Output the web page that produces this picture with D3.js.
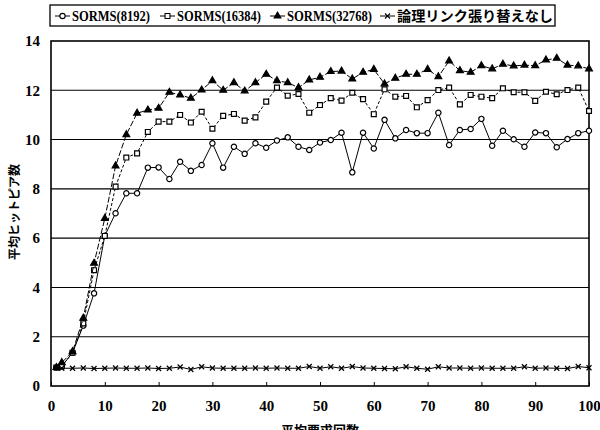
<!DOCTYPE html>
<html>
<head>
<meta charset="utf-8">
<script src="https://cdn.jsdelivr.net/npm/d3@7"></script>
<style>
  body { margin: 0; background: #fff; }
  svg { display: block; }
</style>
</head>
<body>
<svg width="600" height="430"></svg>
<script>
var svg = d3.select("svg");

// x positions (average request count)
var xVals = [1, 2, 4, 6, 8, 10, 12, 14, 16, 18, 20, 22, 24, 26, 28, 30, 32, 34, 36, 38,
  40, 42, 44, 46, 48, 50, 52, 54, 56, 58, 60, 62, 64, 66, 68, 70, 72, 74, 76, 78,
  80, 82, 84, 86, 88, 90, 92, 94, 96, 98, 100];

var sorms8192 = [0.75, 0.8, 1.35, 2.45, 3.76, 6.1, 7.01, 7.82, 7.82, 8.86,
  8.87, 8.4, 9.1, 8.73, 8.97, 9.85, 8.86, 9.71, 9.42, 9.85,
  9.67, 9.96, 10.09, 9.71, 9.58, 9.88, 9.98, 10.28, 8.67, 10.28,
  9.64, 10.8, 10.05, 10.39, 10.26, 10.26, 11.09, 9.78, 10.39, 10.43,
  10.84, 9.75, 10.36, 10.01, 9.71, 10.29, 10.26, 9.69, 10.02, 10.26, 10.36];

var sorms16384 = [0.75, 0.8, 1.35, 2.54, 4.7, 6.09, 8.09, 9.27, 9.44, 10.31,
  10.73, 10.73, 11.0, 10.69, 11.13, 10.44, 10.96, 11.04, 10.77, 10.9,
  11.54, 12.11, 11.78, 11.85, 11.09, 11.4, 11.68, 11.58, 11.9, 11.64,
  11.03, 12.04, 11.74, 11.77, 11.31, 11.6, 12.01, 12.11, 11.43, 11.81,
  11.74, 11.68, 12.08, 11.92, 11.92, 11.57, 11.94, 11.84, 12.01, 12.11, 11.16];

var sorms32768 = [0.75, 0.95, 1.39, 2.75, 4.98, 6.8, 8.93, 10.2, 11.07, 11.2,
  11.27, 11.92, 11.81, 11.68, 12.01, 12.39, 12.0, 12.31, 11.97, 12.31,
  12.65, 12.39, 12.31, 12.11, 12.42, 12.53, 12.76, 12.78, 12.46, 12.73,
  12.85, 12.26, 12.49, 12.65, 12.65, 12.85, 12.55, 13.19, 12.8, 12.73,
  13.0, 12.87, 13.06, 12.99, 13.02, 13.0, 13.23, 13.3, 13.02, 12.99, 12.87];

var noRewire = [0.74, 0.72, 0.72, 0.73, 0.71, 0.72, 0.73, 0.72, 0.72, 0.73,
  0.71, 0.72, 0.77, 0.67, 0.78, 0.73, 0.72, 0.72, 0.72, 0.73,
  0.72, 0.73, 0.72, 0.72, 0.79, 0.72, 0.78, 0.72, 0.79, 0.73,
  0.72, 0.71, 0.70, 0.78, 0.72, 0.68, 0.78, 0.73, 0.73, 0.72,
  0.73, 0.72, 0.72, 0.72, 0.78, 0.72, 0.73, 0.72, 0.71, 0.79, 0.74];

var seriesNames = ["SORMS(8192)", "SORMS(16384)", "SORMS(32768)", "論理リンク張り替えなし"];
var xTicks = [0, 10, 20, 30, 40, 50, 60, 70, 80, 90, 100];
var yTicks = [0, 2, 4, 6, 8, 10, 12, 14];

var plotLeft = 51, plotRight = 589, plotTop = 41, plotBottom = 386;
var x = d3.scaleLinear().domain([0, 100]).range([plotLeft, plotRight]);
var y = d3.scaleLinear().domain([0, 14]).range([plotBottom, plotTop]);

var numFont = "'Liberation Serif', 'Times New Roman', serif";
var jpFont = "'Noto Sans CJK JP', sans-serif";

// grid lines
svg.append("g")
  .selectAll("line")
  .data(yTicks.filter(function(d) { return d > 0 && d < 14; }))
  .join("line")
  .attr("x1", plotLeft).attr("x2", plotRight)
  .attr("y1", function(d) { return y(d); })
  .attr("y2", function(d) { return y(d); })
  .attr("stroke", "#000")
  .attr("stroke-width", 1.1);

// x axis: inner ticks, labels below
var xAxis = d3.axisBottom(x).tickValues(xTicks).tickSizeInner(-4).tickSizeOuter(0).tickPadding(14);
var gx = svg.append("g").attr("transform", "translate(0," + plotBottom + ")").call(xAxis);
gx.select(".domain").remove();
gx.selectAll("text").attr("font-family", numFont).attr("font-weight", "bold")
  .attr("font-size", 15).attr("fill", "#000");
gx.selectAll("line").attr("stroke", "#000");

var yAxis = d3.axisLeft(y).tickValues(yTicks).tickSize(0).tickPadding(11);
var gy = svg.append("g").attr("transform", "translate(" + plotLeft + ",0)").call(yAxis);
gy.select(".domain").remove();
gy.selectAll("text").attr("font-family", numFont).attr("font-weight", "bold")
  .attr("font-size", 15).attr("fill", "#000");

// frame
svg.append("rect")
  .attr("x", plotLeft).attr("y", plotTop)
  .attr("width", plotRight - plotLeft).attr("height", plotBottom - plotTop)
  .attr("fill", "none").attr("stroke", "#000").attr("stroke-width", 1.6);

// series
var series = [
  { name: seriesNames[0], values: sorms8192, symbol: d3.symbolCircle, size: 22, fill: "#fff", dash: null },
  { name: seriesNames[1], values: sorms16384, symbol: d3.symbolSquare, size: 24, fill: "#fff", dash: "3,2" },
  { name: seriesNames[2], values: sorms32768, symbol: d3.symbolTriangle, size: 20, fill: "#000", dash: "6,2" },
  { name: seriesNames[3], values: noRewire, symbol: d3.symbolTimes, size: 18, fill: "none", dash: null }
];

var line = d3.line()
  .x(function(d) { return x(d[0]); })
  .y(function(d) { return y(d[1]); });

series.forEach(function(s) {
  var pts = xVals.map(function(v, i) { return [v, s.values[i]]; });
  svg.append("path")
    .datum(pts)
    .attr("d", line)
    .attr("fill", "none")
    .attr("stroke", "#000")
    .attr("stroke-width", 1)
    .attr("stroke-dasharray", s.dash);
  svg.append("g")
    .selectAll("path")
    .data(pts)
    .join("path")
    .attr("transform", function(d) { return "translate(" + x(d[0]) + "," + y(d[1]) + ")"; })
    .attr("d", d3.symbol().type(s.symbol).size(s.size))
    .attr("fill", s.fill)
    .attr("stroke", "#000")
    .attr("stroke-width", 1.2);
});

// legend
svg.append("rect")
  .attr("x", 50).attr("y", 5).attr("width", 505).attr("height", 21)
  .attr("fill", "#fff").attr("stroke", "#000").attr("stroke-width", 1.3);

var legendX = [55, 160, 270, 380];
var legendW = [78, 84, 85, 156];
series.forEach(function(s, i) {
  var lx = legendX[i];
  svg.append("line")
    .attr("x1", lx).attr("x2", lx + 15).attr("y1", 16).attr("y2", 16)
    .attr("stroke", "#000").attr("stroke-width", 1);
  svg.append("path")
    .attr("transform", "translate(" + (lx + 7.5) + ",16)")
    .attr("d", d3.symbol().type(s.symbol).size(s.size))
    .attr("fill", s.fill).attr("stroke", "#000").attr("stroke-width", 1.1);
  var t = svg.append("text")
    .attr("x", lx + 17).attr("y", 21)
    .attr("font-size", 15)
    .attr("fill", "#000")
    .attr("textLength", legendW[i])
    .attr("lengthAdjust", "spacingAndGlyphs")
    .text(s.name);
  if (i < 3) t.attr("font-family", numFont).attr("font-weight", "bold");
  else t.attr("font-family", jpFont).attr("font-weight", "bold").attr("font-size", 14);
});

// axis titles
svg.append("text")
  .attr("transform", "translate(19,212) rotate(-90)")
  .attr("text-anchor", "middle")
  .attr("font-family", jpFont).attr("font-weight", "bold").attr("font-size", 12)
  .text("平均ヒットピア数");

svg.append("text")
  .attr("x", 320).attr("y", 435)
  .attr("text-anchor", "middle")
  .attr("font-family", jpFont).attr("font-weight", "bold").attr("font-size", 13)
  .text("平均要求回数");
</script>
</body>
</html>
